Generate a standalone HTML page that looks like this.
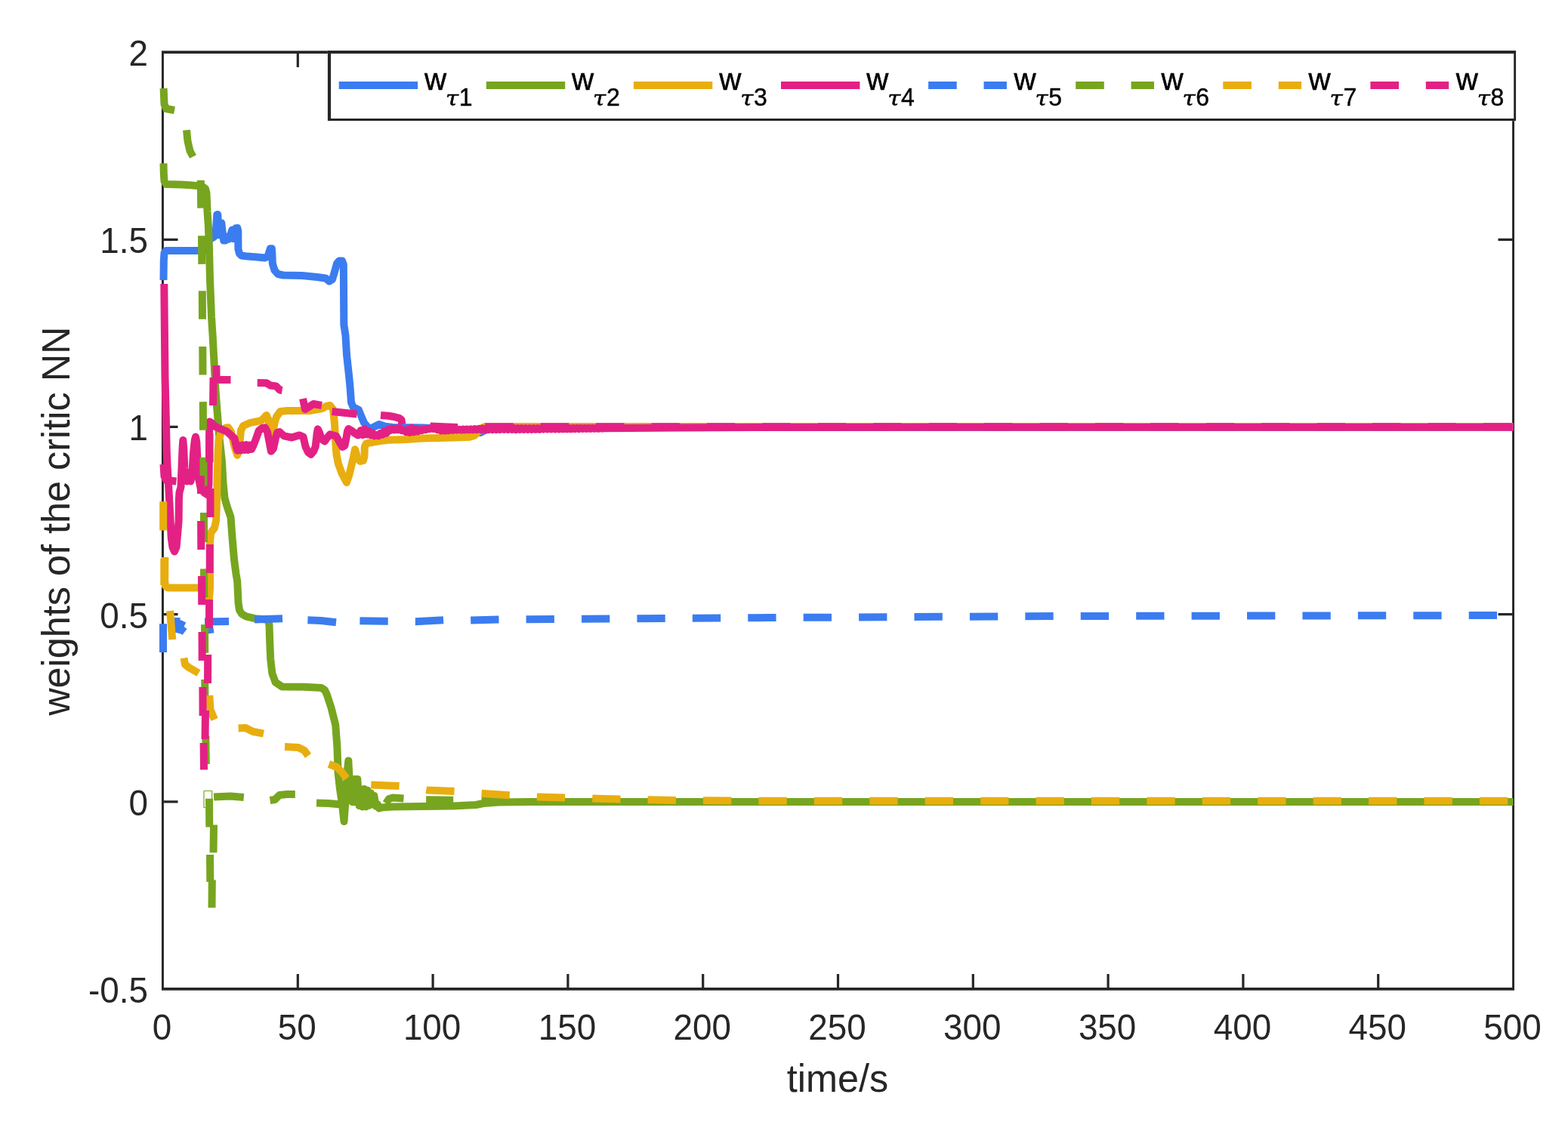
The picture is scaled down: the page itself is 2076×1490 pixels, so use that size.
<!DOCTYPE html>
<html lang="en"><head><meta charset="utf-8"><title>weights of the critic NN</title>
<style>html,body{margin:0;padding:0;background:#fff;}body{width:2076px;height:1490px;overflow:hidden;}svg{display:block;}text{font-family:"Liberation Sans",Arial,Helvetica,sans-serif;}.tk{font-size:45.8px;fill:#262626;}.lb{font-size:50.4px;fill:#262626;}.lg{font-size:40.3px;fill:#000;stroke:#000;stroke-width:0.5px;}.sb{font-size:32px;fill:#000;stroke:#000;stroke-width:0.4px;}.tau{font-family:"DejaVu Serif","Liberation Serif",serif;font-style:italic;font-size:27.5px;fill:#000;stroke:#000;stroke-width:0.45px;}</style>
</head><body>
<svg width="2076" height="1490" viewBox="0 0 2076 1490">
<rect x="0" y="0" width="2076" height="1490" fill="#ffffff"/>
<g><path d="M213.95 67.25H2005.00V71.00H213.95Z M213.95 1308.10H2005.00V1311.85H213.95Z M213.95 67.25H216.90V1311.85H213.95Z M2002.10 67.25H2005.00V1311.85H2002.10Z" fill="#262626"/><path d="M394.30 1310.00 v-20.00 M394.30 69.10 v20.00 M573.10 1310.00 v-20.00 M573.10 69.10 v20.00 M751.90 1310.00 v-20.00 M751.90 69.10 v20.00 M930.70 1310.00 v-20.00 M930.70 69.10 v20.00 M1109.50 1310.00 v-20.00 M1109.50 69.10 v20.00 M1288.30 1310.00 v-20.00 M1288.30 69.10 v20.00 M1467.10 1310.00 v-20.00 M1467.10 69.10 v20.00 M1645.90 1310.00 v-20.00 M1645.90 69.10 v20.00 M1824.70 1310.00 v-20.00 M1824.70 69.10 v20.00 M215.50 1061.82 h20.00 M2003.50 1061.82 h-20.00 M215.50 813.64 h20.00 M2003.50 813.64 h-20.00 M215.50 565.46 h20.00 M2003.50 565.46 h-20.00 M215.50 317.28 h20.00 M2003.50 317.28 h-20.00" fill="none" stroke="#262626" stroke-width="3.2"/></g>
<g fill="none" stroke-linejoin="round" stroke-linecap="butt">
<path d="M216.5 371.0 L216.8 345.0 L217.5 335.0 L220.0 332.0 L262.0 332.0 L270.0 332.0 L274.0 329.0 L276.0 320.0 L279.0 316.0 L283.0 314.0 L285.5 311.0 L286.6 295.0 L287.3 284.4 L288.3 284.1 L288.9 298.0 L289.7 311.2 L291.0 305.0 L292.6 296.0 L293.3 295.3 L294.3 305.0 L296.2 318.6 L298.5 318.5 L300.7 313.6 L303.0 316.8 L305.0 312.0 L307.2 304.6 L308.3 310.0 L309.3 316.3 L311.0 308.0 L312.3 302.2 L314.4 302.0 L315.3 306.0 L315.4 330.0 L317.0 336.0 L320.0 338.6 L325.0 339.3 L340.0 340.5 L351.0 341.5 L354.5 340.0 L357.0 332.0 L357.8 329.3 L359.8 329.3 L360.3 335.0 L360.8 349.0 L363.5 358.0 L368.0 363.0 L375.0 364.5 L400.0 365.0 L420.0 367.0 L431.0 368.5 L436.0 372.5 L440.0 370.0 L443.0 360.0 L446.0 349.0 L449.0 345.5 L453.0 345.5 L454.8 350.0 L455.0 380.0 L455.3 430.0 L457.5 444.5 L459.0 470.0 L462.3 500.0 L463.7 515.0 L465.0 533.0 L467.5 539.0 L475.0 543.0 L479.0 553.0 L482.0 560.0 L487.0 566.0 L491.3 567.0 L496.0 565.0 L502.0 562.0 L510.0 564.7 L520.0 566.0 L560.0 566.5 L600.0 568.5 L625.0 571.0 L636.0 573.0 L642.0 570.0 L650.0 567.0 L700.0 566.0 L2003.5 565.6" stroke="#3b7cf0" stroke-width="10.0"/>
<path d="M216.5 216.3 L216.8 230.0 L217.5 240.0 L220.0 244.0 L240.0 244.5 L262.0 246.0 L268.0 247.0 L272.0 250.0 L273.5 256.0 L274.5 280.0 L275.9 300.0 L277.0 330.0 L278.0 370.0 L280.0 420.0 L281.6 444.5 L283.5 480.0 L285.3 515.0 L287.2 540.0 L290.0 575.0 L294.0 612.0 L295.5 640.0 L297.5 660.0 L301.0 672.0 L305.5 685.0 L307.5 712.0 L310.0 741.0 L312.5 760.0 L314.2 770.0 L315.6 799.0 L317.0 808.0 L320.0 813.0 L325.7 816.3 L337.3 819.2 L350.0 820.3 L355.0 821.0 L356.5 828.0 L357.0 845.0 L358.2 873.0 L360.4 892.0 L364.7 903.7 L373.4 909.5 L402.3 909.8 L425.4 911.0 L430.0 914.0 L432.7 919.6 L438.4 937.0 L444.2 960.0 L446.4 989.0 L447.6 1023.6 L450.0 1045.0 L453.0 1065.0 L455.5 1088.0 L457.5 1060.0 L460.0 1020.0 L461.3 1007.5 L462.5 1030.0 L463.5 1060.0 L464.5 1033.5 L466.7 1062.3 L468.9 1032.0 L471.1 1062.1 L473.3 1032.0 L475.5 1066.9 L477.7 1045.5 L479.9 1068.6 L482.1 1045.0 L484.3 1068.4 L486.5 1046.8 L488.7 1066.8 L490.9 1050.5 L493.1 1065.3 L495.3 1053.9 L497.5 1067.7 L499.7 1065.1 L501.9 1070.6 L505.0 1069.5 L520.0 1068.5 L560.0 1068.0 L600.0 1067.5 L630.0 1066.0 L640.0 1064.0 L660.0 1062.5 L700.0 1062.0 L2003.5 1062.0" stroke="#77a51f" stroke-width="10.0"/>
<path d="M218.4 738.0 L218.2 770.0 L219.0 776.0 L222.0 778.5 L262.0 778.5 L270.0 779.0 L274.0 785.0 L277.0 792.0 L278.0 780.0 L278.0 718.0 L279.0 706.0 L284.0 699.0 L286.0 690.0 L286.7 676.0 L287.5 640.0 L288.6 600.0 L289.5 583.0 L293.0 572.0 L298.0 567.0 L302.2 566.3 L306.0 572.0 L310.0 590.0 L314.3 602.8 L317.0 590.0 L319.0 570.0 L322.0 564.0 L330.5 560.2 L345.7 557.2 L350.0 553.0 L352.8 550.0 L355.5 556.0 L358.0 575.0 L359.4 586.5 L361.0 575.0 L363.5 560.0 L366.0 552.0 L371.0 545.0 L380.0 544.0 L391.4 544.0 L410.0 544.0 L426.8 541.0 L432.0 538.0 L437.0 537.0 L441.0 542.0 L443.0 561.0 L444.5 590.0 L445.5 601.8 L448.0 614.6 L453.0 628.0 L458.9 639.0 L462.0 630.0 L465.0 618.0 L468.0 605.0 L470.0 595.2 L471.5 600.0 L473.0 607.0 L477.0 611.0 L481.0 610.0 L482.5 604.0 L482.8 592.0 L484.5 588.0 L487.7 586.7 L501.6 584.3 L514.0 582.8 L537.0 582.0 L560.0 580.5 L583.0 580.1 L610.0 579.2 L622.0 578.7 L628.0 577.0 L632.0 573.0 L636.0 567.5 L642.0 565.0 L700.0 565.0 L2003.5 565.2" stroke="#e8ae0f" stroke-width="10.0"/>
<path d="M217.3 376.0 L217.5 400.0 L218.0 450.0 L218.5 500.0 L219.5 540.0 L220.8 600.0 L221.8 622.0 L223.0 640.0 L225.3 683.0 L226.7 712.0 L228.5 725.0 L231.0 730.5 L233.5 725.0 L234.7 712.0 L236.6 690.0 L236.9 661.0 L237.5 652.0 L239.5 645.0 L240.5 620.0 L241.5 595.0 L242.3 583.0 L243.3 595.0 L244.3 620.0 L245.5 630.0 L247.5 637.5 L250.0 627.0 L252.5 637.5 L254.5 625.0 L256.0 600.0 L257.8 583.0 L259.0 578.6 L260.3 585.0 L261.5 610.0 L263.0 634.0 L266.0 648.0 L271.0 653.0 L275.0 655.4 L276.5 640.0 L277.0 600.0 L277.2 565.0 L277.5 558.4 L280.0 560.0 L285.0 565.0 L290.0 567.3 L300.1 571.3 L310.3 580.5 L313.0 592.0 L314.3 596.7 L316.5 590.0 L318.8 596.5 L321.0 589.5 L323.4 596.0 L325.8 589.0 L328.2 596.0 L330.6 589.5 L333.0 595.0 L335.5 590.0 L338.6 582.0 L342.7 570.5 L347.0 567.0 L350.8 566.3 L354.0 572.0 L356.5 585.0 L358.9 597.7 L362.0 594.0 L365.0 580.0 L367.0 573.0 L370.0 572.0 L376.0 577.4 L386.3 579.5 L396.4 576.4 L401.5 578.5 L404.5 591.6 L408.0 599.0 L411.6 601.8 L415.0 598.0 L417.7 591.6 L419.5 575.0 L420.7 568.3 L423.0 573.0 L425.8 581.5 L429.9 584.5 L433.0 580.0 L437.0 575.4 L445.0 577.5 L450.1 586.5 L453.5 592.0 L456.5 590.0 L458.2 581.5 L460.0 571.0 L461.5 568.0 L465.0 570.0 L470.0 574.0 L474.0 576.5 L477.7 570.0 L480.3 576.1 L482.9 568.2 L485.5 575.5 L488.1 570.8 L490.7 576.3 L493.3 573.5 L495.9 577.4 L498.5 576.0 L501.1 577.3 L503.7 573.8 L506.3 575.8 L508.9 571.0 L511.5 573.9 L514.1 568.8 L516.7 570.1 L519.3 567.7 L521.9 569.5 L524.5 567.4 L527.1 569.3 L529.7 567.4 L532.3 570.3 L534.9 570.0 L537.5 572.2 L540.1 569.0 L542.7 572.9 L545.3 566.6 L547.9 572.2 L550.5 568.3 L553.1 571.4 L555.7 569.2 L558.3 570.2 L560.9 568.7 L563.5 569.2 L566.1 567.7 L568.7 568.3 L571.3 567.1 L573.9 568.0 L576.5 567.2 L579.1 569.2 L581.7 569.1 L584.3 570.6 L586.9 569.6 L589.5 570.6 L592.1 569.5 L594.7 570.3 L597.3 569.1 L599.9 569.9 L602.5 568.8 L605.1 569.7 L607.7 568.7 L610.3 569.6 L612.9 568.5 L615.5 569.5 L618.1 568.4 L620.7 569.4 L623.3 568.3 L625.9 569.3 L628.5 568.0 L631.1 569.2 L633.7 567.8 L636.3 569.2 L638.9 567.5 L641.5 569.1 L644.1 567.4 L646.7 569.1 L649.3 567.4 L651.9 569.1 L654.5 567.3 L657.1 569.1 L659.7 567.3 L662.3 569.0 L664.9 567.2 L667.5 569.0 L670.1 567.1 L672.7 569.0 L675.3 567.1 L677.9 569.0 L680.5 567.0 L683.1 569.0 L685.7 567.0 L688.3 568.9 L690.9 567.0 L693.5 568.9 L696.1 567.0 L698.7 568.8 L701.3 567.0 L703.9 568.8 L706.5 567.0 L709.1 568.7 L711.7 567.0 L714.3 568.7 L716.9 567.0 L719.5 568.6 L722.1 567.0 L724.7 568.5 L727.3 567.0 L729.9 568.5 L732.5 567.0 L735.1 568.4 L737.7 566.9 L740.3 568.4 L742.9 566.9 L745.5 568.3 L748.1 566.9 L750.7 568.3 L753.3 566.9 L755.9 568.2 L758.5 566.9 L761.1 568.1 L763.7 566.8 L766.3 568.1 L768.9 566.8 L771.5 568.0 L774.1 566.8 L776.7 568.0 L779.3 566.8 L781.9 567.9 L784.5 566.8 L787.1 567.8 L789.7 566.7 L792.3 567.8 L794.9 566.7 L797.5 567.7 L800.0 567.2 L900.0 566.6 L1000.0 565.9 L2003.5 565.8" stroke="#e32184" stroke-width="10.0"/>
<path d="M216.0 864.0 L216.0 826.2 M233.5 818.0 L234.0 838.0 M234.0 838.0 L238.0 826.0 L244.0 829.0 M238.0 832.0 L244.5 837.0 M271.0 823.5 L303.0 822.9 M277.5 832.0 L278.5 839.0 M337.0 820.6 L374.0 819.2 M407.4 821.3 L425.0 822.0 L445.0 824.2" stroke="#3b7cf0" stroke-width="10.0"/>
<path d="M476.4 822.3 L514.0 822.8 L550.0 823.3 L588.0 821.2 L623.0 821.5 L661.0 820.6 L700.0 820.3 L1000.0 818.2 L1400.0 816.0 L2003.5 815.0" stroke="#3b7cf0" stroke-width="10.0" stroke-dasharray="37.30 36.12" stroke-dashoffset="0.00"/>
<path d="M216.6 117.0 L217.5 138.0 L220.0 144.0 L231.0 146.0 M247.0 172.3 L248.5 187.0 L251.5 200.0 L255.5 207.5 M265.8 238.7 L266.2 275.6 M267.0 312.3 L267.3 349.9 M267.8 385.3 L268.0 422.8 M268.3 459.0 L268.5 496.5 M268.8 532.1 L269.0 569.7 M269.4 605.8 L269.6 643.4 M270.0 679.0 L270.0 718.0 M270.0 753.4 L270.2 791.0 M271.0 827.1 L271.2 864.9 M271.2 900.0 L271.5 938.0 M272.3 974.5 L272.8 1012.0 M277.0 1057.8 L277.3 1095.4 M278.0 1132.0 L278.3 1168.0 M280.5 1202.3 L280.8 1165.5 M282.5 1129.3 L283.0 1092.5 M283.0 1055.5 L305.0 1054.5 L322.8 1056.0 M357.5 1060.0 L364.0 1059.0 L370.0 1053.0 L380.0 1052.0 L390.8 1052.0 M419.0 1063.5 L435.0 1064.0 L446.0 1065.0 L456.0 1066.0 M511.0 1064.0 L515.0 1058.0 L520.0 1056.5 L534.5 1057.5 M564.1 1059.3 L600.2 1059.7" stroke="#77a51f" stroke-width="10.0"/>
<path d="M270 1047.5 H280.6 V1058 M270 1047.5 V1069.5 H272" stroke="#77a51f" stroke-width="1.2"/>
<path d="M637.5 1060.5 L700.0 1061.5 L2003.5 1062.0" stroke="#77a51f" stroke-width="10.0" stroke-dasharray="37.30 36.12" stroke-dashoffset="0.00"/>
<path d="M216.2 664.2 L216.2 702.4 M217.3 740.0 L217.3 775.0 M225.1 809.0 L228.2 847.2 M243.5 871.5 L245.0 880.0 L250.0 884.0 L263.0 891.5 M277.3 921.0 L278.5 940.0 L284.0 953.0 M315.6 964.4 L325.0 964.0 L335.0 969.0 L349.0 971.6 M377.0 989.0 L395.0 990.0 L403.0 994.0 L408.0 1001.0 M435.5 1012.0 L446.0 1016.0 L452.0 1022.0 L459.0 1031.0" stroke="#e8ae0f" stroke-width="10.0"/>
<path d="M491.3 1039.5 L530.0 1041.0 L565.0 1046.4 L602.0 1048.0 L640.0 1051.0 L710.0 1055.5 L800.0 1058.0 L900.0 1060.0 L1000.0 1060.8 L2003.5 1060.8" stroke="#e8ae0f" stroke-width="10.0" stroke-dasharray="37.30 36.12" stroke-dashoffset="0.00"/>
<path d="M216.5 615.0 L217.5 631.0 L220.0 636.0 L233.5 637.5 M265.8 630.0 L266.0 654.0 M266.1 690.0 L266.3 728.0 M267.0 763.0 L267.2 801.0 M267.5 837.0 L267.7 875.0 M268.4 910.0 L268.6 948.0 M269.6 984.0 L270.0 1019.5 M271.5 979.0 L272.0 941.0 M275.0 905.0 L275.2 867.0 M277.0 832.0 L277.1 794.0 M277.7 759.0 L277.8 721.0 M278.5 685.0 L278.5 647.0 M277.5 612.0 L277.5 574.0 M282.0 537.0 L282.5 500.0 M286.4 484.0 L286.6 500.0 L290.0 503.0 L305.5 503.0 M340.7 507.0 L352.8 507.2 L357.9 510.5 L365.5 511.4 L370.5 516.5 L373.6 517.0 M401.0 528.0 L404.0 542.0 L415.0 535.0 L426.0 537.0 M439.5 545.0 L472.4 548.5 M504.0 550.0 L514.0 550.8 L521.7 552.0 L528.5 553.8 L531.5 556.0 L532.3 562.0 M569.5 564.5 L606.0 566.0" stroke="#e32184" stroke-width="10.0"/>
<path d="M642.3 565.2 L2003.5 565.2" stroke="#e32184" stroke-width="10.0" stroke-dasharray="37.30 36.12" stroke-dashoffset="0.00"/>
</g>
<rect x="433.90" y="66.95" width="1573.20" height="93.15" fill="#ffffff"/><path d="M433.90 66.95H2007.10V70.95H433.90Z M433.90 156.90H2007.10V160.10H433.90Z M433.90 66.95H438.10V160.10H433.90Z M2004.20 66.95H2007.10V160.10H2004.20Z" fill="#262626"/>
<g><path d="M448.7 113 h104.4" stroke="#3b7cf0" stroke-width="10.0" fill="none"/><text class="lg" x="562.0" y="118.9">w</text><text class="tau" transform="translate(590.0 140.3) scale(1.13 1)">τ</text><text class="sb" transform="translate(607.8 139.9) scale(1 1.06)">1</text><path d="M643.8 113 h104.4" stroke="#77a51f" stroke-width="10.0" fill="none"/><text class="lg" x="757.1" y="118.9">w</text><text class="tau" transform="translate(785.1 140.3) scale(1.13 1)">τ</text><text class="sb" transform="translate(802.9 139.9) scale(1 1.06)">2</text><path d="M838.9 113 h104.4" stroke="#e8ae0f" stroke-width="10.0" fill="none"/><text class="lg" x="952.2" y="118.9">w</text><text class="tau" transform="translate(980.2 140.3) scale(1.13 1)">τ</text><text class="sb" transform="translate(998.0 139.9) scale(1 1.06)">3</text><path d="M1034.0 113 h104.4" stroke="#e32184" stroke-width="10.0" fill="none"/><text class="lg" x="1147.3" y="118.9">w</text><text class="tau" transform="translate(1175.3 140.3) scale(1.13 1)">τ</text><text class="sb" transform="translate(1193.1 139.9) scale(1 1.06)">4</text><path d="M1229.1 113 h103.8" stroke="#3b7cf0" stroke-width="10.0" fill="none" stroke-dasharray="37.6 35.8"/><text class="lg" x="1342.4" y="118.9">w</text><text class="tau" transform="translate(1370.4 140.3) scale(1.13 1)">τ</text><text class="sb" transform="translate(1388.2 139.9) scale(1 1.06)">5</text><path d="M1424.2 113 h103.8" stroke="#77a51f" stroke-width="10.0" fill="none" stroke-dasharray="37.6 35.8"/><text class="lg" x="1537.5" y="118.9">w</text><text class="tau" transform="translate(1565.5 140.3) scale(1.13 1)">τ</text><text class="sb" transform="translate(1583.3 139.9) scale(1 1.06)">6</text><path d="M1619.3 113 h103.8" stroke="#e8ae0f" stroke-width="10.0" fill="none" stroke-dasharray="37.6 35.8"/><text class="lg" x="1732.6" y="118.9">w</text><text class="tau" transform="translate(1760.6 140.3) scale(1.13 1)">τ</text><text class="sb" transform="translate(1778.4 139.9) scale(1 1.06)">7</text><path d="M1814.4 113 h103.8" stroke="#e32184" stroke-width="10.0" fill="none" stroke-dasharray="37.6 35.8"/><text class="lg" x="1927.7" y="118.9">w</text><text class="tau" transform="translate(1955.7 140.3) scale(1.13 1)">τ</text><text class="sb" transform="translate(1973.5 139.9) scale(1 1.06)">8</text></g>
<g><text class="tk" text-anchor="middle" transform="translate(214.5 1376.8) scale(1 1.05)">0</text><text class="tk" text-anchor="middle" transform="translate(393.3 1376.8) scale(1 1.05)">50</text><text class="tk" text-anchor="middle" transform="translate(572.1 1376.8) scale(1 1.05)">100</text><text class="tk" text-anchor="middle" transform="translate(750.9 1376.8) scale(1 1.05)">150</text><text class="tk" text-anchor="middle" transform="translate(929.7 1376.8) scale(1 1.05)">200</text><text class="tk" text-anchor="middle" transform="translate(1108.5 1376.8) scale(1 1.05)">250</text><text class="tk" text-anchor="middle" transform="translate(1287.3 1376.8) scale(1 1.05)">300</text><text class="tk" text-anchor="middle" transform="translate(1466.1 1376.8) scale(1 1.05)">350</text><text class="tk" text-anchor="middle" transform="translate(1644.9 1376.8) scale(1 1.05)">400</text><text class="tk" text-anchor="middle" transform="translate(1823.7 1376.8) scale(1 1.05)">450</text><text class="tk" text-anchor="middle" transform="translate(2002.5 1376.8) scale(1 1.05)">500</text><text class="tk" text-anchor="end" transform="translate(196.0 1327.9) scale(1 1.04)">-0.5</text><text class="tk" text-anchor="end" transform="translate(196.0 1079.7) scale(1 1.04)">0</text><text class="tk" text-anchor="end" transform="translate(196.0 831.5) scale(1 1.04)">0.5</text><text class="tk" text-anchor="end" transform="translate(196.0 583.4) scale(1 1.04)">1</text><text class="tk" text-anchor="end" transform="translate(196.0 335.2) scale(1 1.04)">1.5</text><text class="tk" text-anchor="end" transform="translate(196.0 87.0) scale(1 1.04)">2</text><text class="lb" text-anchor="middle" transform="translate(1109 1446) scale(1 1.03)">time/s</text><text class="lb" text-anchor="middle" transform="translate(92.4 690.2) rotate(-90) scale(1 1.03)">weights of the critic NN</text></g>
</svg></body></html>
